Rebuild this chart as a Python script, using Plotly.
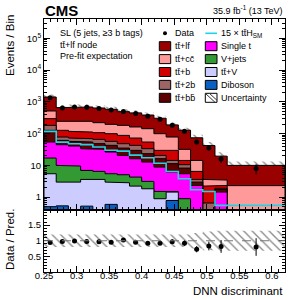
import numpy as np
import plotly.graph_objects as go

# ---------------- data ----------------
bin_edges = [0.25, 0.26875, 0.2875, 0.30625, 0.325, 0.34375, 0.3625, 0.38125, 0.4,
             0.41875, 0.4375, 0.45625, 0.475, 0.49375, 0.5125, 0.53125, 0.62]
data_counts = [1340, 640, 683, 676, 623, 554, 500, 428, 354, 281, 182, 118, 54, 35, 16, 8]

tt_lf = [904, 414, 446, 446, 421, 387, 308, 288, 242, 206, 110, 96, 59.7, 38.4, 16.1, 7.7]
tt_cc = [220, 117, 126, 132, 114, 96.5, 94, 89.4, 88.7, 69.8, 48.3, 17.6, 7.85, 1.39, 1.11, 2.3]
tt_b = [114, 49, 45.4, 42.8, 41.1, 42.5, 39.8, 29.9, 20.8, 9.1, 15.4, 3.8, 2.84, 1.57, 0.43, 0]
tt_2b = [55, 16.7, 15.6, 14.9, 17.7, 14.3, 13.1, 13, 10.2, 4.4, 3.0, 2.3, 0.64, 0.65, 0.15, 0]
tt_bb = [72.7, 16.5, 16.4, 20.8, 16.3, 16.4, 14.5, 13.5, 10.6, 7.36, 5.15, 2.75, 0.64, 0, 0.31, 0]
single_t = [37.3, 34.8, 31.1, 26.6, 25.5, 20.85, 15.5, 11.9, 9.58, 7.33, 4.65, 4.56, 2.33, 0, 1.44, 0]
v_jets = [11.55, 7.0, 6.53, 3.32, 2.84, 2.48, 2.23, 2.05, 1.29, 0.62, 0.06, 0.89, 0, 0, 0, 0]
tt_v = [4.95, 2.44, 2.97, 3.09, 3.61, 2.38, 2.83, 2.22, 1.83, 0.89, 0.655, 0, 0, 0, 0, 0]
diboson = [0.5, 0.53, 0, 0.52, 0, 0.59, 0, 0, 0, 0, 0.785, 0, 0, 0, 0, 0]
signal_x15 = [118, 54, 48, 45, 38, 30, 28, 21, 17.4, 11.6, 6.4, 3.8, 1.7, 1.5, 0.55, 0.55]
rel_unc = [0.2, 0.2, 0.2, 0.2, 0.2, 0.2, 0.2, 0.2, 0.2, 0.2, 0.2, 0.2, 0.25, 0.3, 0.32, 0.32]

x_tickvals = [0.25, 0.3, 0.35, 0.4, 0.45, 0.5, 0.55, 0.6]
x_ticktext = ["0.25", "0.3", "0.35", "0.4", "0.45", "0.5", "0.55", "0.6"]
y_tickvals = [1, 10, 100, 1000, 10000, 100000]
y_ticktext = ["1", "10", "10<sup>2</sup>", "10<sup>3</sup>", "10<sup>4</sup>", "10<sup>5</sup>"]
r_tickvals = [0.5, 1, 1.5]
r_ticktext = ["0.5", "1", "1.5"]

# stack order bottom -> top
stack = [
    ("Diboson", diboson, "#0a5fc4"),
    ("tt\u0304+V", tt_v, "#ccccff"),
    ("V+jets", v_jets, "#339933"),
    ("Single t", single_t, "#ff00ff"),
    ("tt\u0304+bb\u0304", tt_bb, "#5c0000"),
    ("tt\u0304+2b", tt_2b, "#9c6464"),
    ("tt\u0304+b", tt_b, "#d00000"),
    ("tt\u0304+cc\u0304", tt_cc, "#ff9a9a"),
    ("tt\u0304+lf", tt_lf, "#990000"),
]

FONT = "Liberation Sans, Arial, Helvetica, sans-serif"
edges = np.array(bin_edges)
centers = 0.5 * (edges[:-1] + edges[1:])
widths = edges[1:] - edges[:-1]
data = np.array(data_counts, dtype=float)
cum = np.cumsum(np.array([s[1] for s in stack], dtype=float), axis=0)
total = cum[-1]
unc = np.array(rel_unc)
FLOOR = 1e-3

fig = go.Figure()

# stacked filled histograms (drawn from top level down)
for k in range(len(stack) - 1, -1, -1):
    h = np.maximum(cum[k], FLOOR)
    xs, ys = [], []
    for i in range(len(h)):
        xs += [edges[i], edges[i + 1]]
        ys += [h[i], h[i]]
    xs += [edges[-1], edges[0], edges[0]]
    ys += [FLOOR, FLOOR, h[0]]
    fig.add_trace(go.Scatter(x=xs, y=ys, mode="lines", fill="toself",
                             fillcolor=stack[k][2],
                             line=dict(color="black", width=1),
                             showlegend=False, hoverinfo="skip",
                             xaxis="x", yaxis="y"))

# signal x15 step line
sx, sy = [], []
for i in range(len(signal_x15)):
    sx += [edges[i], edges[i + 1]]
    sy += [signal_x15[i], signal_x15[i]]
fig.add_trace(go.Scatter(x=sx, y=sy, mode="lines",
                         line=dict(color="#22d3e6", width=1.6),
                         showlegend=False, hoverinfo="skip", xaxis="x", yaxis="y"))

hatch = dict(shape="\\", fgcolor="#111111", bgcolor="rgba(0,0,0,0)", size=6,
             solidity=0.22, fillmode="overlay")
# uncertainty band, main panel
fig.add_trace(go.Bar(x=centers, y=2 * unc * total, base=total * (1 - unc), width=widths,
                     marker=dict(color="rgba(0,0,0,0)", line=dict(width=0), pattern=hatch),
                     showlegend=False, hoverinfo="skip", xaxis="x", yaxis="y"))

# data
fig.add_trace(go.Scatter(x=centers, y=data, mode="markers",
                         marker=dict(color="black", size=5),
                         error_y=dict(type="data", array=np.sqrt(data), color="black",
                                      thickness=1, width=0),
                         showlegend=False, xaxis="x", yaxis="y"))

# ratio panel
fig.add_trace(go.Bar(x=centers, y=2 * unc, base=1 - unc, width=widths,
                     marker=dict(color="rgba(0,0,0,0)", line=dict(width=0), pattern=hatch),
                     showlegend=False, hoverinfo="skip", xaxis="x2", yaxis="y2"))
fig.add_trace(go.Scatter(x=centers, y=data / total, mode="markers",
                         marker=dict(color="black", size=5),
                         error_y=dict(type="data", array=np.sqrt(data) / total, color="black",
                                      thickness=1, width=0),
                         showlegend=False, xaxis="x2", yaxis="y2"))

# ---------------- layout ----------------
L, R, T, B = 44, 285, 19, 272
RATIO_TOP = 209.5


def pxx(x):
    return (x - L) / (R - L)


def pxy(y):
    return (B - y) / (B - T)


split = pxy(RATIO_TOP)

axis_common = dict(showline=True, linecolor="black", linewidth=1, mirror="allticks",
                   ticks="inside", tickcolor="black", showgrid=False, zeroline=False,
                   tickfont=dict(family=FONT, size=9.5, color="black"))

fig.update_layout(
    width=291, height=300,
    margin=dict(l=L, r=291 - R, t=T, b=300 - B),
    paper_bgcolor="white", plot_bgcolor="white",
    barmode="overlay", showlegend=False,
    xaxis=dict(domain=[0, 1], anchor="y", range=[0.25, 0.62], tickvals=x_tickvals,
               showticklabels=False, ticklen=6,
               minor=dict(ticks="inside", dtick=0.01, tick0=0.25, ticklen=3, tickcolor="black"),
               **axis_common),
    yaxis=dict(domain=[split, 1], anchor="x", type="log", range=[-0.39, 5.61],
               tickvals=y_tickvals, ticktext=y_ticktext, ticklen=6,
               minor=dict(ticks="inside", ticklen=3, tickcolor="black",
                          tickvals=[m * 10 ** d for d in range(-1, 6) for m in range(2, 10)]),
               **axis_common),
    xaxis2=dict(domain=[0, 1], anchor="y2", range=[0.25, 0.62], tickvals=x_tickvals,
                ticktext=x_ticktext, ticklen=6, ticklabelstandoff=-5,
                minor=dict(ticks="inside", dtick=0.01, tick0=0.25, ticklen=3, tickcolor="black"),
                **axis_common),
    yaxis2=dict(domain=[0, split], anchor="x2", range=[0, 2], tickvals=r_tickvals,
                ticktext=r_ticktext, ticklen=6,
                minor=dict(ticks="inside", dtick=0.1, tick0=0, ticklen=3, tickcolor="black"),
                **axis_common),
)

fig.add_shape(type="line", xref="x2", yref="y2", x0=0.25, x1=0.62, y0=1, y1=1,
              line=dict(color="#777777", width=1, dash="dash"))

ann = []


def text(x, y, s, size=9, xanchor="left", bold=False, angle=0):
    ann.append(dict(xref="paper", yref="paper", x=pxx(x), y=pxy(y), text=("<b>%s</b>" % s) if bold else s,
                    showarrow=False, xanchor=xanchor, yanchor="middle", textangle=angle,
                    font=dict(family=FONT, size=size, color="black")))


text(43, 10.5, "CMS", size=15, bold=True)
text(285, 10.5, "35.9 fb<sup>-1</sup> (13 TeV)", size=9, xanchor="right")
text(58, 33.3, "SL (5 jets, \u22653 b tags)")
text(58, 44.8, "tt\u0304+lf node")
text(58, 56.3, "Pre-fit expectation")
text(10, 46, "Events / Bin", size=11.5, xanchor="center", angle=-90)
text(10, 240, "Data / Pred.", size=11.5, xanchor="center", angle=-90)
text(285, 291, "DNN discriminant", size=11.5, xanchor="right")

# manual legend
row0, dy = 33.3, 12.9
left_box, right_box = (159.3, 170.7), (205.3, 217.0)
left_txt, right_txt = 173.2, 219.4
shapes = []
# Data entry
shapes.append(dict(type="circle", xref="paper", yref="paper",
                   x0=pxx(163.0), x1=pxx(167.0), y0=pxy(row0 + 2), y1=pxy(row0 - 2),
                   fillcolor="black", line=dict(color="black", width=0)))
text(left_txt, row0, "Data")
# signal entry
shapes.append(dict(type="line", xref="paper", yref="paper",
                   x0=pxx(right_box[0]), x1=pxx(right_box[1]), y0=pxy(row0), y1=pxy(row0),
                   line=dict(color="#22d3e6", width=1.6)))
text(right_txt, row0, "15 \u00d7 tt\u0304H<sub>SM</sub>")

left_entries = ["tt\u0304+lf", "tt\u0304+cc\u0304", "tt\u0304+b", "tt\u0304+2b", "tt\u0304+bb\u0304"]
right_entries = ["Single t", "V+jets", "tt\u0304+V", "Diboson"]
color_of = {s[0]: s[2] for s in stack}
for j, name in enumerate(left_entries):
    yc = row0 + dy * (j + 1)
    shapes.append(dict(type="rect", xref="paper", yref="paper",
                       x0=pxx(left_box[0]), x1=pxx(left_box[1]), y0=pxy(yc + 4.5), y1=pxy(yc - 4.5),
                       fillcolor=color_of[name], line=dict(color="black", width=1)))
    text(left_txt, yc, name)
for j, name in enumerate(right_entries):
    yc = row0 + dy * (j + 1)
    shapes.append(dict(type="rect", xref="paper", yref="paper",
                       x0=pxx(right_box[0]), x1=pxx(right_box[1]), y0=pxy(yc + 4.5), y1=pxy(yc - 4.5),
                       fillcolor=color_of[name], line=dict(color="black", width=1)))
    text(right_txt, yc, name)
yc = row0 + dy * 5
shapes.append(dict(type="rect", xref="paper", yref="paper",
                   x0=pxx(right_box[0]), x1=pxx(right_box[1]), y0=pxy(yc + 4.5), y1=pxy(yc - 4.5),
                   fillcolor="white", line=dict(color="black", width=1)))
shapes.append(dict(type="line", xref="paper", yref="paper",
                   x0=pxx(right_box[0]), x1=pxx(right_box[1] - 2), y0=pxy(yc - 4.5), y1=pxy(yc + 4.5),
                   line=dict(color="#333333", width=1)))
shapes.append(dict(type="line", xref="paper", yref="paper",
                   x0=pxx(right_box[0] + 4), x1=pxx(right_box[1]), y0=pxy(yc - 4.5), y1=pxy(yc + 2.5),
                   line=dict(color="#333333", width=1)))
text(right_txt, yc, "Uncertainty")

for s in shapes:
    fig.add_shape(**s)
fig.update_layout(annotations=ann)

fig.write_html("out.html", config={"displayModeBar": False},
               post_script="document.body.style.margin='0';document.body.style.padding='0';"
                           "document.body.style.overflow='hidden';")
